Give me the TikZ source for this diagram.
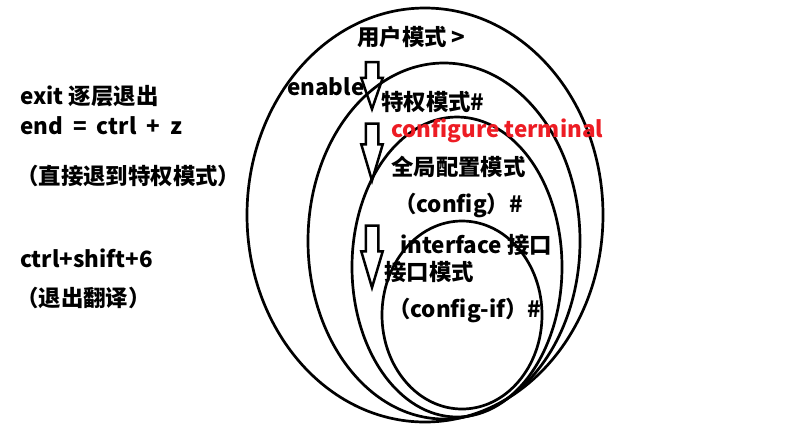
\documentclass[tikz,border=0pt]{standalone}
\usepackage{fontspec}
\setmainfont{Noto Sans CJK SC}
\usepackage{xcolor}
\usetikzlibrary{shapes,arrows,positioning}
\definecolor{paintred}{RGB}{237,28,36}

\begin{document}
\begin{tikzpicture}[x=1bp, y=-1bp,
    ring/.style={draw, line width=2.7bp},
    txt/.style={anchor=west, inner sep=0pt, font=\fontsize{22.5}{26}\selectfont\bfseries},
    downarrow/.style={single arrow, draw, line width=2.5bp, rotate=-90, inner xsep=0pt, inner ysep=5bp, single arrow head extend=4.5bp}]
    \useasboundingbox (0,0) rectangle (800,425);

    % nested modes
    \draw[ring] (425,215) ellipse [x radius=178, y radius=207];
    \draw[ring] (444,241) ellipse [x radius=136, y radius=178];
    \draw[ring] (457,267) ellipse [x radius=105, y radius=150];
    \draw[ring] (462,315) ellipse [x radius=80, y radius=94];

    \node[txt] (userMode) at (357,37) {用户模式 >};
    \node[txt] (enableCmd) at (287,87) {enable};
    \node[txt] (privMode) at (381,102) {特权模式\#};
    \node[txt, text=paintred] (confCmd) at (391,131) {configure terminal};
    \node[txt] (globalMode) at (391,167) {全局配置模式};
    \node[txt] (globalPrompt) at (394,205) {（config）\#};
    \node[txt] (ifCmd) at (400,245) {interface 接口};
    \node[txt] (ifMode) at (384,272) {接口模式};
    \node[txt] (ifPrompt) at (388,310) {（config-if）\#};

    \node[downarrow, minimum height=47bp, single arrow tip angle=38] (enableArrow) at (372,76.5) {};
    \node[downarrow, minimum height=57bp, single arrow tip angle=33] (confArrow) at (372,141.5) {};
    \node[downarrow, minimum height=62bp, single arrow tip angle=33] (ifArrow) at (372,246) {};

    % exit keys
    \node[txt] (exitNote) at (20,96) {exit 逐层退出};
    \node[txt] (endNote) at (20,126) {end\hspace{0.45em}=\hspace{0.45em}ctrl\hspace{0.45em}+\hspace{0.45em}z};
    \node[txt] (endHint) at (16,176) {（直接退到特权模式）};
    \node[txt] (breakNote) at (20,258) {ctrl+shift+6};
    \node[txt] (breakHint) at (16,298) {（退出翻译）};
\end{tikzpicture}
\end{document}
